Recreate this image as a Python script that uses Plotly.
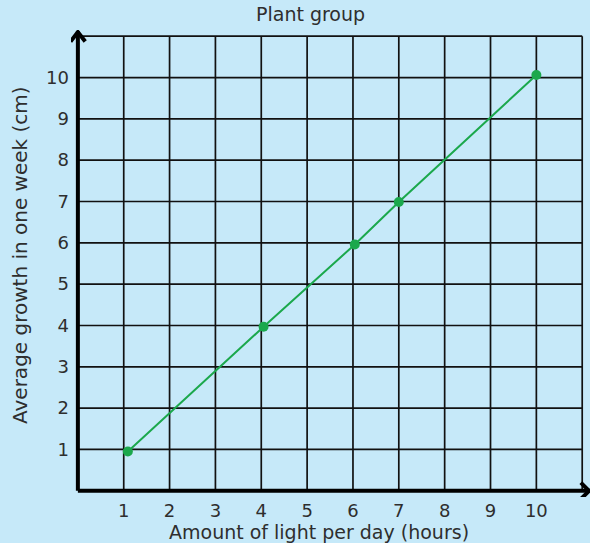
import plotly.graph_objects as go

# Plant group: hours of light per day vs average growth in one week
light_hours = [1.09, 4.05, 6.04, 7.0, 10.0]
growth_cm = [0.95, 3.97, 5.96, 6.99, 10.06]

x_ticks = list(range(1, 11))
y_ticks = list(range(1, 11))

bg = "#c6e9f9"
green = "#1ba84c"
font = "DejaVu Sans"

fig = go.Figure()

fig.add_trace(go.Scatter(
    x=light_hours, y=growth_cm,
    mode="lines+markers",
    line=dict(color=green, width=2),
    marker=dict(color=green, size=10),
    cliponaxis=False,
    showlegend=False,
))

xmin, xmax = -0.15, 11.17
ymin, ymax = -0.15, 11.15

# thick axis lines with chevron arrow heads
shapes = [
    dict(type="line", x0=0, x1=0, y0=0, y1=ymax - 0.03, xref="x", yref="y",
         line=dict(color="black", width=4)),
    dict(type="line", x0=0, x1=xmax, y0=0, y1=0, xref="x", yref="y",
         line=dict(color="black", width=4)),
    dict(type="path", xref="x", yref="y",
         path=f"M -0.16,{ymax-0.28} L 0,{ymax-0.05} L 0.16,{ymax-0.28}",
         line=dict(color="black", width=4)),
    dict(type="path", xref="x", yref="y",
         path=f"M {xmax-0.2},0.2 L {xmax-0.02},0 L {xmax-0.2},-0.2",
         line=dict(color="black", width=4)),
]

fig.update_layout(
    width=590, height=543,
    paper_bgcolor=bg, plot_bgcolor=bg,
    margin=dict(l=71, r=0, t=30, b=46, autoexpand=False),
    font=dict(family=font, color="#2e2e2e", size=18),
    shapes=shapes,
    annotations=[
        dict(text="Plant group", x=310, y=14, xref="paper", yref="paper",
             showarrow=False, font=dict(size=19)),
        dict(text="Amount of light per day (hours)", x=319, y=532,
             xref="paper", yref="paper", xanchor="center", yanchor="middle",
             showarrow=False, font=dict(size=19)),
        dict(text="Average growth in one week (cm)", x=20, y=255,
             xref="paper", yref="paper", textangle=-90, xanchor="center",
             yanchor="middle", showarrow=False, font=dict(size=20)),
    ],
)
# convert the pixel positions above into paper fractions of the plot area
pw, ph = 590 - 71, 543 - 30 - 46
for a in fig.layout.annotations:
    a.update(x=(a.x - 71) / pw, y=(543 - 46 - a.y) / ph)
fig.layout.annotations[0].update(xanchor="center", yanchor="middle")

fig.update_xaxes(
    range=[xmin, xmax], tickvals=x_ticks, ticktext=[str(v) for v in x_ticks],
    showgrid=False, zeroline=False, showline=False, ticks="",
    ticklabelstandoff=1,
)
fig.update_yaxes(
    range=[ymin, ymax], tickvals=y_ticks, ticktext=[str(v) for v in y_ticks],
    showgrid=False, zeroline=False, showline=False, ticks="",
    ticklabelstandoff=1,
)

# grid: unit squares from 0..11 on both axes
for v in range(1, 12):
    fig.add_shape(type="line", x0=v, x1=v, y0=0, y1=11, xref="x", yref="y",
                  line=dict(color="#111111", width=1.7), layer="below")
    fig.add_shape(type="line", x0=0, x1=11, y0=v, y1=v, xref="x", yref="y",
                  line=dict(color="#111111", width=1.7), layer="below")

fig.write_html("out.html", config={"displayModeBar": False},
               post_script="document.body.style.margin='0';")
